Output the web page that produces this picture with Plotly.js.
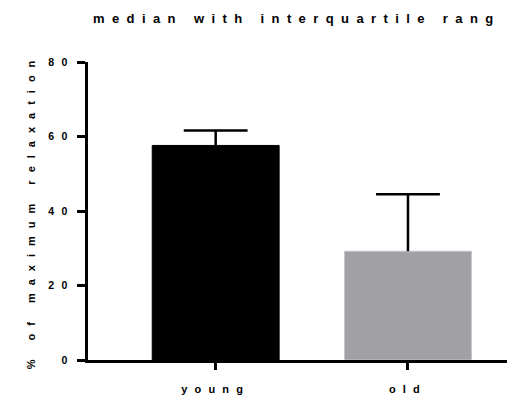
<!DOCTYPE html>
<html>
<head>
<meta charset="utf-8">
<script src="https://cdn.plot.ly/plotly-3.0.1.min.js"></script>
<style>
  html, body { margin: 0; padding: 0; background: #fff; }
  #chart { width: 507px; height: 398px; }
  text.gtitle { letter-spacing: 7.4px !important; }
  text.ytitle { letter-spacing: 8px !important; }
  g.xtick text { letter-spacing: 7.2px !important; }
  g.ytick text { letter-spacing: 7.5px !important; }
</style>
</head>
<body>
<div id="chart"></div>
<script>
// Data
var groups = ["young", "old"];
var medians = [57.6, 29.2];
var upperQuartiles = [61.6, 44.5];
var barColors = ["#000000", "#a1a0a4"];
var barEdgeColors = ["#000000", "#c6c6c8"];
var yTickValues = [0, 20, 40, 60, 80];
var yTickLabels = ["0", "20", "40", "60", "80"];

var groupPos = groups.map(function (g, i) { return i; });
var stemDown = upperQuartiles.map(function (q, i) { return q - medians[i]; });
var zeros = medians.map(function () { return 0; });

var FONT = "Liberation Sans, Arial, Helvetica, sans-serif";

var bars = {
  type: "bar",
  x: groupPos,
  y: medians,
  width: 0.66,
  marker: { color: barColors, line: { width: 1, color: barEdgeColors } },
  hoverinfo: "none"
};

// upper-quartile whiskers: a stem from the median up to Q3 with a cap at Q3
var whiskers = {
  type: "scatter",
  mode: "markers",
  x: groupPos,
  y: upperQuartiles,
  marker: { size: 1, color: "rgba(0,0,0,0)" },
  error_y: {
    type: "data",
    symmetric: false,
    array: zeros,
    arrayminus: stemDown,
    color: "#000000",
    thickness: 2.5,
    width: 0
  },
  error_x: {
    type: "constant",
    value: 0.166,
    copy_ystyle: false,
    color: "#000000",
    thickness: 2.5,
    width: 0
  },
  hoverinfo: "none"
};

var layout = {
  width: 507,
  height: 398,
  margin: { l: 88, r: 0, t: 62, b: 38, pad: 0 },
  paper_bgcolor: "#ffffff",
  plot_bgcolor: "#ffffff",
  showlegend: false,
  font: { family: FONT, color: "#000000", size: 10, weight: "bold" },
  title: {
    text: "median with interquartile rang",
    font: { family: FONT, size: 13, color: "#000000", weight: "bold" },
    x: 93 / 507,
    xanchor: "left",
    xref: "container",
    y: 1 - 18 / 398,
    yanchor: "middle",
    yref: "container"
  },
  xaxis: {
    type: "linear",
    range: [-0.664, 1.515],
    tickmode: "array",
    tickvals: groupPos,
    ticktext: groups,
    showline: true,
    linecolor: "#000000",
    linewidth: 3,
    ticks: "outside",
    ticklen: 7,
    tickwidth: 3,
    tickcolor: "#000000",
    showgrid: false,
    zeroline: false,
    tickfont: { family: FONT, size: 11, color: "#000000", weight: "bold" },
    ticklabelstandoff: 10
  },
  yaxis: {
    range: [0, 80],
    tickmode: "array",
    tickvals: yTickValues,
    ticktext: yTickLabels,
    showline: true,
    linecolor: "#000000",
    linewidth: 3,
    ticks: "outside",
    ticklen: 8,
    tickwidth: 3,
    tickcolor: "#000000",
    showgrid: false,
    zeroline: false,
    tickfont: { family: FONT, size: 10.5, color: "#000000", weight: "bold" },
    ticklabelstandoff: 0,
    title: {
      text: "% of maximum relaxation",
      font: { family: FONT, size: 11, color: "#000000", weight: "bold" },
      standoff: 11
    }
  }
};

Plotly.newPlot("chart", [bars, whiskers], layout, { staticPlot: true, displayModeBar: false });
</script>
</body>
</html>
